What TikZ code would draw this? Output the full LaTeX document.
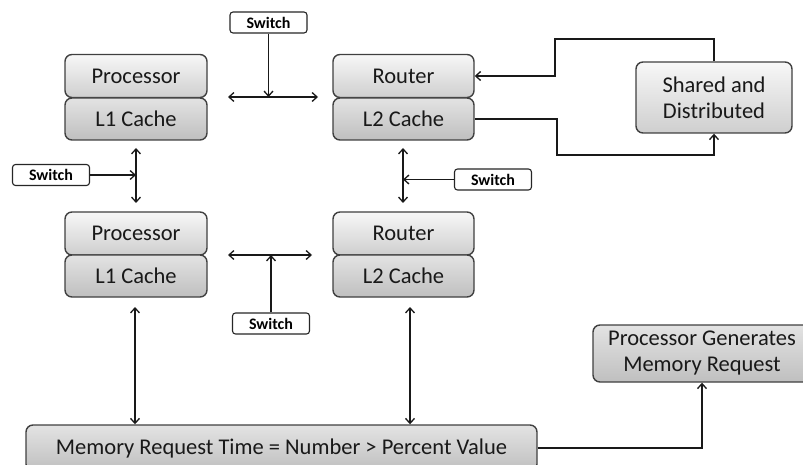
\documentclass[tikz,border=0pt]{standalone}
\usepackage{fontspec}
\setmainfont{Carlito}
\usetikzlibrary{arrows.meta}
\begin{document}
\begin{tikzpicture}[x=1pt,y=-1pt,
 box/.style={draw=black!75, line width=1.4pt, rounded corners=7pt, inner sep=0pt, align=center, font=\fontsize{22.5}{26}\selectfont, text=black!90},
 upper/.style={box, top color=gray!6, bottom color=gray!38},
 lower/.style={box, top color=gray!22, bottom color=gray!50},
 sw/.style={draw=black!85, fill=white, line width=1.1pt, rounded corners=3pt, inner sep=0pt, minimum width=77pt, minimum height=21pt, font=\bfseries\fontsize{16}{18}\selectfont},
 conn/.style={line width=1.3pt, draw=black!90},
 tip/.style={-{Straight Barb[length=5pt,width=9pt]}},
 dtip/.style={{Straight Barb[length=5pt,width=9pt]}-{Straight Barb[length=5pt,width=9pt]}},
 ]
\useasboundingbox (0,0) rectangle (803,465);
% boxes
\node[upper, minimum width=142pt, minimum height=43pt] (P1) at (136,76) {Processor};
\node[lower, minimum width=142pt, minimum height=42pt] (C1) at (136,119) {L1 Cache};
\node[upper, minimum width=141pt, minimum height=43pt] (R1) at (403.5,76) {Router};
\node[lower, minimum width=141pt, minimum height=42pt] (D1) at (403.5,119) {L2 Cache};
\node[upper, minimum width=142pt, minimum height=43pt] (P2) at (136,233.5) {Processor};
\node[lower, minimum width=142pt, minimum height=42pt] (C2) at (136,276) {L1 Cache};
\node[upper, minimum width=141pt, minimum height=43pt] (R2) at (403.5,233.5) {Router};
\node[lower, minimum width=141pt, minimum height=42pt] (D2) at (403.5,276) {L2 Cache};
\node[upper, minimum width=156pt, minimum height=71pt] (SD) at (714,97.5) {Shared and\\Distributed};
\node[lower, minimum width=511pt, minimum height=46pt] (MR) at (281.5,448) {Memory Request Time = Number > Percent Value};
\node[lower, minimum width=218pt, minimum height=57pt] (PG) at (702,353.5) {Processor Generates\\Memory Request};
% switches
\node[sw] (S1) at (268.5,22.5) {Switch};
\node[sw] (S2) at (51,175) {Switch};
\node[sw] (S3) at (493,179.5) {Switch};
\node[sw] (S4) at (271,323.5) {Switch};
% free ends
\coordinate (h1a) at (228,97);
\coordinate (h1b) at (318,97);
\coordinate (v1a) at (136,148);
\coordinate (v1b) at (136,203);
\coordinate (v2a) at (403,148);
\coordinate (v2b) at (403,203);
\coordinate (h2a) at (228,255);
\coordinate (h2b) at (312,255);
\coordinate (l1) at (135,307);
\coordinate (l2) at (410,307);
\coordinate (k1) at (555,39);
\coordinate (k2) at (557,155);
% connectors
\draw[conn,dtip] (h1a) -- (h1b);
\draw[conn,tip] (S1.south) -- (S1.south |- h1a);
\draw[conn,dtip] (v1a) -- (v1b);
\draw[conn,tip] (S2.east) -- (v1a |- S2.east);
\draw[conn,dtip] (v2a) -- (v2b);
\draw[conn,tip] (S3.west) -- (v2a |- S3.west);
\draw[conn,dtip] (h2a) -- (h2b);
\draw[conn,tip] (S4.north) -- (S4.north |- h2a);
\draw[conn,dtip] (l1) -- (l1 |- MR.north);
\draw[conn,dtip] (l2) -- (l2 |- MR.north);
\draw[conn,tip] (MR.east) -| (PG.south);
\draw[conn,tip] (SD.north) |- (k1) |- (R1.east);
\draw[conn,tip] (D1.east) -| (k2) -| (SD.south);
\end{tikzpicture}
\end{document}
